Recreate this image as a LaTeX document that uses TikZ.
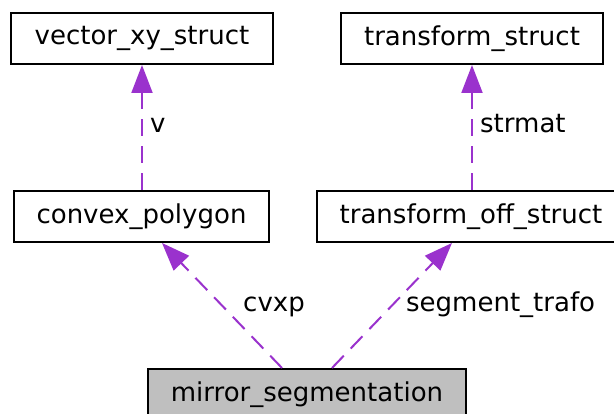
\documentclass[tikz,border=0pt]{standalone}
\usepackage{fontspec}
\setmainfont{DejaVu Sans}
\usetikzlibrary{arrows.meta,calc}
\definecolor{edgepurple}{RGB}{154,50,205}
\definecolor{mainfill}{RGB}{191,191,191}
\tikzset{
  classbox/.style={draw=black, line width=2pt, fill=white, inner sep=0pt,
    minimum height=51pt, font=\fontsize{26}{30}\selectfont},
  usage/.style={edgepurple, line width=2pt, dash pattern=on 17pt off 10pt,
    -{Triangle[length=28pt,width=21pt]}},
  elabel/.style={anchor=base west, inner sep=0pt, font=\fontsize{26}{30}\selectfont}
}
\begin{document}
\begin{tikzpicture}[x=1pt,y=1pt]
  \useasboundingbox (0,0) rectangle (614,-414);
  \fill[white] (0,0) rectangle (614,-414);

  % classes
  \node[classbox, minimum width=262pt] (vx)  at (142,-38.5)  {vector\_xy\_struct};
  \node[classbox, minimum width=262pt] (ts)  at (472,-38.5)  {transform\_struct};
  \node[classbox, minimum width=255pt] (cp)  at (141.5,-216.5) {convex\_polygon};
  \node[classbox, minimum width=308pt] (tos) at (471,-216.5) {transform\_off\_struct};
  \node[classbox, minimum width=318pt, fill=mainfill] (ms) at (307,-394.5) {mirror\_segmentation};

  % member usage edges
  \draw[usage] (cp.north -| vx.south) -- (vx.south);
  \draw[usage] (tos.north -| ts.south) -- (ts.south);
  \draw[usage] ($(ms.north)+(-25,0)$) -- ($(cp.south)+(20.5,0)$);
  \draw[usage] ($(ms.north)+(25,0)$) -- ($(tos.south)+(-19,0)$);

  % edge labels
  \node[elabel] (lv)   at (150,-133) {v};
  \node[elabel] (lsm)  at (480,-133) {strmat};
  \node[elabel] (lcv)  at (243,-312) {cvxp};
  \node[elabel] (lseg) at (406,-312) {segment\_trafo};
\end{tikzpicture}
\end{document}
